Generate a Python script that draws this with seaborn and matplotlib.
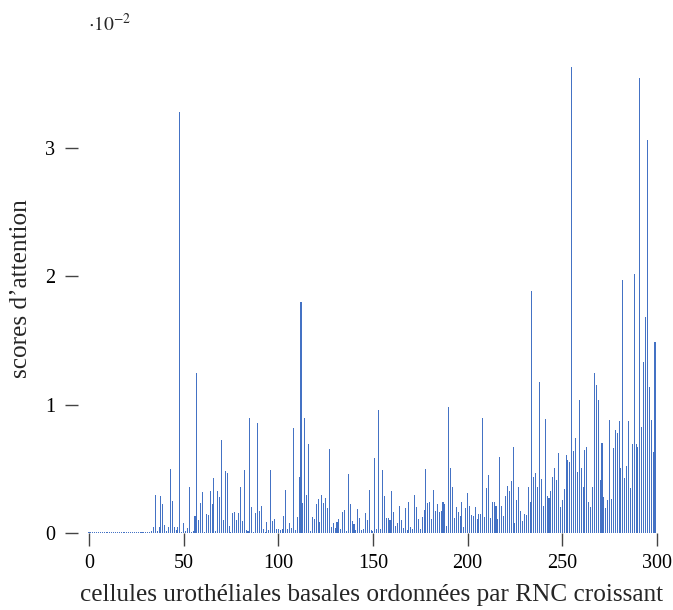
import numpy as np
import pandas as pd
import matplotlib
matplotlib.use("Agg")
import matplotlib.pyplot as plt
import seaborn as sns
from matplotlib.ticker import FuncFormatter

# attention scores, in units of 1e-2, for cells ordered by increasing RNC (index 0..299)
scores_e2 = [
    # 0-32
    0.008, 0.008, 0.008, 0.008, 0.008, 0.008, 0.008, 0.008, 0.008, 0.008,
    0.008, 0.008, 0.008, 0.010, 0.008, 0.008, 0.008, 0.008, 0.008, 0.008,
    0.008, 0.008, 0.008, 0.010, 0.008, 0.008, 0.008, 0.008, 0.008, 0.008,
    0.008, 0.008, 0.008,
    # 33-48
    0.018, 0.047, 0.30, 0.016, 0.047, 0.29, 0.226, 0.062, 0.016, 0.047,
    0.50, 0.25, 0.047, 0.023, 0.047, 3.28,
    # 49-98
    0.005, 0.078, 0.016, 0.039, 0.36, 0.008, 0.016, 0.13, 1.25, 0.10,
    0.23, 0.32, 0.008, 0.148, 0.14, 0.33, 0.226, 0.43, 0.016, 0.33,
    0.28, 0.725, 0.10, 0.48, 0.47, 0.055, 0.008, 0.156, 0.164, 0.10,
    0.156, 0.36, 0.094, 0.49, 0.023, 0.016, 0.90, 0.20, 0.008, 0.156,
    0.86, 0.17, 0.21, 0.031, 0.008, 0.086, 0.023, 0.49, 0.094, 0.11,
    # 99-148
    0.031, 0.031, 0.023, 0.031, 0.13, 0.335, 0.031, 0.078, 0.039, 0.82,
    0.023, 0.125, 0.44, 1.80, 0.23, 0.90, 0.30, 0.69, 0.016, 0.125,
    0.11, 0.226, 0.265, 0.086, 0.296, 0.23, 0.273, 0.195, 0.655, 0.047,
    0.078, 0.039, 0.086, 0.11, 0.031, 0.164, 0.18, 0.016, 0.46, 0.226,
    0.094, 0.07, 0.023, 0.187, 0.117, 0.023, 0.031, 0.156, 0.10, 0.335,
    # 149-197
    0.023, 0.016, 0.585, 0.031, 0.96, 0.031, 0.49, 0.29, 0.117, 0.117,
    0.10, 0.33, 0.164, 0.055, 0.078, 0.21, 0.10, 0.039, 0.195, 0.023,
    0.24, 0.047, 0.031, 0.30, 0.20, 0.11, 0.031, 0.125, 0.18, 0.50,
    0.23, 0.24, 0.11, 0.335, 0.17, 0.226, 0.164, 0.17, 0.24, 0.226,
    0.055, 0.98, 0.51, 0.36, 0.117, 0.20, 0.164, 0.13, 0.24,
    # 198-249
    0.047, 0.195, 0.31, 0.21, 0.14, 0.13, 0.20, 0.11, 0.148, 0.148,
    0.90, 0.125, 0.35, 0.45, 0.117, 0.24, 0.24, 0.21, 0.11, 0.59,
    0.21, 0.13, 0.29, 0.37, 0.33, 0.405, 0.67, 0.078, 0.257, 0.36,
    0.17, 0.094, 0.148, 0.14, 0.36, 0.24, 1.89, 0.44, 0.47, 0.36,
    1.18, 0.42, 0.21, 0.89, 0.29, 0.27, 0.33, 0.44, 0.51, 0.41,
    0.62, 0.20,
    # 250-299
    0.257, 0.34, 0.61, 0.57, 0.55, 3.63, 0.64, 0.74, 0.475, 1.04,
    0.51, 0.36, 0.65, 0.67, 0.24, 0.20, 0.36, 1.25, 1.15, 1.04,
    0.41, 0.70, 0.28, 0.195, 0.257, 0.88, 0.265, 0.66, 0.80, 0.78,
    0.87, 0.51, 1.97, 0.43, 0.52, 0.87, 0.35, 0.69, 2.02, 0.69,
    0.67, 3.55, 0.83, 1.33, 1.68, 3.06, 1.14, 0.88, 0.63, 1.49,
]
cell_index = list(range(len(scores_e2)))
xticks = [0, 50, 100, 150, 200, 250, 300]
yticks_e2 = [0, 1, 2, 3]
xlabel = "cellules urothéliales basales ordonnées par RNC croissant"
ylabel = "scores d’attention"

df = pd.DataFrame({"cell": cell_index, "score": np.array(scores_e2) * 1e-2})

sns.set_style("white")
plt.rcParams["font.family"] = ["Liberation Serif", "DejaVu Serif"]
plt.rcParams["mathtext.fontset"] = "stix"

fig = plt.figure(figsize=(6.73, 6.10), dpi=100)
W, H = 673, 610
left, right, top, bottom = 78, 666, 45, 533
ax = fig.add_axes([left / W, 1 - bottom / H, (right - left) / W, (bottom - top) / H])

sns.barplot(data=df, x="cell", y="score", native_scale=True, width=0.55,
            color="#4472c4", saturation=1, linewidth=0, ax=ax)

x0 = (left - 89) / 1.893
ax.set_xlim(x0, x0 + (right - left) / 1.893)
ax.set_ylim(0, (bottom - top) / 128.3 * 1e-2)

ax.set_xticks(xticks)
ax.set_yticks([v * 1e-2 for v in yticks_e2])
ax.yaxis.set_major_formatter(FuncFormatter(lambda v, p: f"{round(v / 1e-2):d}"))
ax.xaxis.set_major_formatter(FuncFormatter(lambda v, p: f"{int(round(v))}"))

for s in ax.spines.values():
    s.set_visible(False)
ax.tick_params(axis="both", which="major", direction="out", color="#444444",
               width=1.0, labelsize=14.5, labelcolor="black")
ax.tick_params(axis="x", length=9, pad=6, bottom=True)
ax.tick_params(axis="y", length=9.5, pad=7, left=True)

ax.set_xlabel(xlabel, fontsize=18.2, labelpad=8)
ax.set_ylabel(ylabel, fontsize=18.2, labelpad=9)

fig.text(88 / W, 1 - 31 / H, r"$\cdot 10^{-2}$", fontsize=14, ha="left", va="baseline")

fig.savefig("out.png", dpi=100)
